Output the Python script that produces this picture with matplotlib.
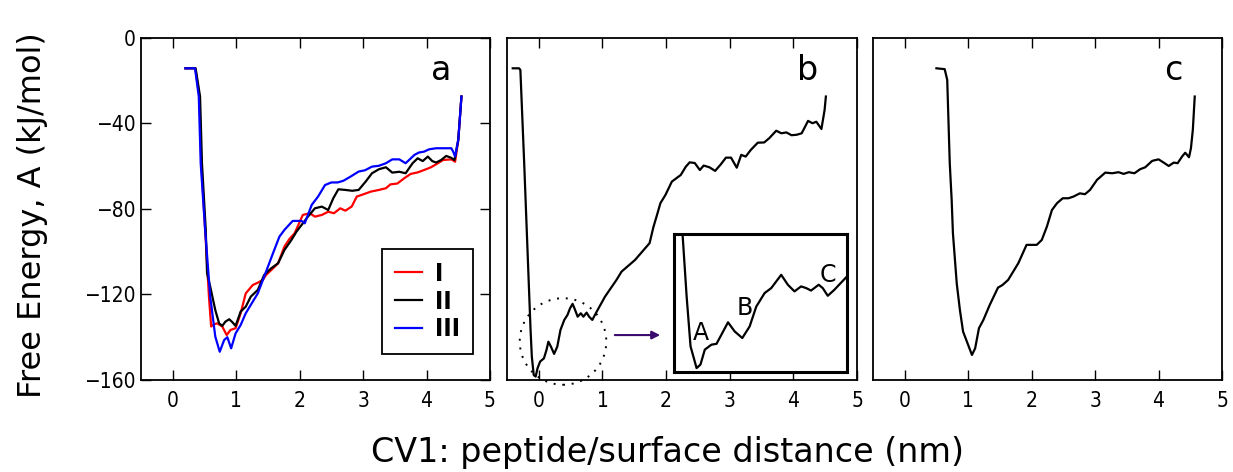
import matplotlib
matplotlib.use("Agg")
import matplotlib.pyplot as plt
from matplotlib.patches import Ellipse

# panel a: three runs (I red, II black, III blue)
x_I = [0.2, 0.355, 0.42, 0.45, 0.51, 0.57, 0.605, 0.65, 0.70, 0.78, 0.85, 0.91, 0.99, 1.07, 1.15,
       1.26, 1.34, 1.42, 1.47, 1.58, 1.66, 1.76, 1.84, 1.92, 2.05, 2.16, 2.24, 2.35, 2.45, 2.54,
       2.64, 2.72, 2.82, 2.90, 2.98, 3.12, 3.25, 3.36, 3.43, 3.54, 3.65, 3.75, 3.86, 3.96, 4.07,
       4.18, 4.26, 4.39, 4.45, 4.50, 4.55]
y_I = [-14.2, -14.2, -27.4, -58.6, -89.8, -121, -135, -134, -133.5, -135, -139, -136.6, -135.8,
       -128.8, -119.5, -115.6, -114.5, -113.2, -110.9, -107.8, -105.4, -97.6, -94, -91.4, -82.8,
       -82, -83.6, -82.8, -81.3, -82.0, -79.7, -80.8, -78.9, -74.2, -73.4, -71.9, -71.1, -70.3,
       -68.5, -68.1, -65.6, -63.6, -62.9, -61.8, -60.5, -58.6, -57.1, -56.8, -57.9, -47.7, -27.4]
x_II = [0.2, 0.36, 0.43, 0.46, 0.52, 0.54, 0.59, 0.67, 0.73, 0.78, 0.83, 0.89, 0.94, 0.99, 1.07,
        1.15, 1.23, 1.34, 1.44, 1.55, 1.66, 1.76, 1.87, 1.95, 2.03, 2.13, 2.24, 2.35, 2.45, 2.53,
        2.61, 2.72, 2.83, 2.93, 3.04, 3.14, 3.25, 3.36, 3.46, 3.57, 3.67, 3.78, 3.86, 3.94, 4.02,
        4.09, 4.15, 4.23, 4.31, 4.39, 4.44, 4.50, 4.55]
y_II = [-14.2, -14.2, -27.4, -58.6, -89.8, -110, -116.3, -127.3, -133.5, -134.7, -132.7, -131.6,
        -133, -134.7, -128, -125.7, -121, -117.9, -110.9, -107.8, -105.4, -99.2, -94.5, -90.6,
        -87.5, -83.6, -79.7, -78.9, -80.5, -75, -70.8, -71.1, -71.5, -71.1, -67.2, -63.3, -61.4,
        -60.5, -63, -62.6, -63.3, -58.6, -56.3, -57.6, -55.5, -57.6, -58.3, -57.1, -55.2, -56.1,
        -57.1, -47.7, -27.4]
x_III = [0.2, 0.35, 0.41, 0.44, 0.51, 0.59, 0.67, 0.74, 0.81, 0.86, 0.92, 0.99, 1.07, 1.15, 1.26,
         1.34, 1.44, 1.58, 1.68, 1.76, 1.815, 1.89, 2.03, 2.08, 2.19, 2.29, 2.40, 2.50, 2.60, 2.69,
         2.80, 2.93, 3.03, 3.14, 3.25, 3.36, 3.46, 3.57, 3.67, 3.81, 3.88, 3.96, 4.04, 4.15, 4.27,
         4.39, 4.42, 4.45, 4.50, 4.55]
y_III = [-14.2, -14.2, -27.4, -58.6, -89.8, -121, -139.7, -146.8, -141.3, -140, -145.2, -138.2,
         -134.3, -128.8, -123.4, -119.5, -111.7, -100.7, -93, -89.8, -88, -85.6, -85.6, -86.7,
         -78.1, -74.2, -68.8, -67.6, -67.6, -66.8, -64.9, -62.5, -61.9, -60.2, -59.8, -58.6,
         -56.8, -56.8, -58.6, -54.7, -53.6, -53.2, -52.1, -51.6, -51.6, -51.6, -53.2, -55.5,
         -47.7, -27.4]

# panel b
x_b = [-0.41, -0.31, -0.29, -0.23, -0.16, -0.13, -0.11, -0.08, -0.05, -0.02, 0.02, 0.08, 0.12,
       0.15, 0.19, 0.24, 0.29, 0.34, 0.40, 0.45, 0.49, 0.53, 0.56, 0.61, 0.66, 0.70, 0.75, 0.79,
       0.84, 0.91, 1.04, 1.22, 1.30, 1.51, 1.74, 1.80, 1.85, 1.91, 1.99, 2.09, 2.23, 2.31, 2.37,
       2.45, 2.53, 2.59, 2.68, 2.77, 2.86, 2.94, 3.02, 3.11, 3.18, 3.25, 3.33, 3.44, 3.54, 3.62,
       3.73, 3.81, 3.89, 3.97, 4.05, 4.13, 4.23, 4.30, 4.36, 4.44, 4.49, 4.51]
y_b = [-14.2, -14.2, -15, -58.6, -113.2, -136.6, -149.1, -157.7, -158.4, -154.5, -151.4, -149.9,
       -146, -142.1, -144.4, -147.8, -144.4, -136.6, -131.9, -129.6, -126.5, -124.4, -126.5,
       -130.4, -128.8, -130.4, -128.5, -130.4, -131.9, -128, -121, -113.2, -109.3, -103.9, -96,
       -88.5, -83.5, -77.3, -73.4, -67.2, -64.1, -60.2, -58.2, -58.5, -61.8, -59.7, -60.5, -62.2,
       -59.1, -56, -56, -60.7, -54.7, -55.5, -52.4, -49, -48.9, -46.9, -43.4, -44.6, -44.2, -45.5,
       -45.3, -44.6, -38.8, -39.9, -39.2, -42.6, -33.7, -27.4]

# inset of panel b (zoom on the minimum)
x_ins = [-0.18, -0.152, -0.125, -0.083, -0.056, -0.026, 0.020, 0.055, 0.089, 0.135, 0.181, 0.234,
         0.285, 0.331, 0.389, 0.435, 0.504, 0.550, 0.596, 0.642, 0.677, 0.711, 0.764, 0.792, 0.827,
         0.873, 0.96]
y_ins = [-110.4, -132.7, -150.7, -158.6, -157.3, -151.9, -150.1, -149.8, -146.5, -142.0, -145.3,
         -147.7, -143.5, -136.3, -131.4, -129.6, -124.8, -128.4, -130.8, -129.0, -129.6, -130.5,
         -128.4, -129.6, -132.4, -130.2, -125.4]

# panel c
x_c = [0.50, 0.63, 0.67, 0.71, 0.74, 0.76, 0.82, 0.87, 0.92, 0.96, 1.02, 1.06, 1.11, 1.17, 1.24,
       1.34, 1.47, 1.54, 1.63, 1.79, 1.92, 2.00, 2.08, 2.16, 2.24, 2.32, 2.40, 2.49, 2.58, 2.66,
       2.76, 2.84, 2.92, 3.03, 3.16, 3.27, 3.37, 3.45, 3.53, 3.62, 3.71, 3.79, 3.90, 4.00, 4.08,
       4.16, 4.24, 4.30, 4.37, 4.42, 4.48, 4.51, 4.54, 4.57]
y_c = [-14.2, -14.6, -19.6, -58.6, -75.8, -91.4, -114.8, -127.3, -137.4, -140.5, -145.2, -148.3,
       -145.2, -135.8, -131.9, -124.9, -116.8, -115.6, -113.2, -105.4, -96.8, -96.8, -96.8,
       -94.5, -88.3, -80.5, -77.3, -75, -75, -74.2, -72.7, -73.1, -71.1, -66.4, -63, -63.3,
       -62.8, -63.6, -62.8, -63.3, -61.4, -60.5, -57.5, -56.8, -58.3, -59.9, -58.3, -58.6,
       -55.5, -53.7, -55.8, -51.6, -43, -27.4]

plt.rcParams['xtick.direction'] = 'in'
plt.rcParams['ytick.direction'] = 'in'
plt.rcParams['xtick.top'] = True
plt.rcParams['ytick.right'] = True

fig = plt.figure(figsize=(12.33, 4.72), dpi=100)
ax_a = fig.add_axes([0.1144, 0.195, 0.283, 0.7246])
ax_b = fig.add_axes([0.4112, 0.195, 0.2839, 0.7246])
ax_c = fig.add_axes([0.708, 0.195, 0.2831, 0.7246])

tickfont = dict(family='DejaVu Sans', stretch='condensed', size=15)

for ax in (ax_a, ax_b, ax_c):
    ax.set_xlim(-0.5, 5)
    ax.set_ylim(-160, 0)
    ax.set_xticks([0, 1, 2, 3, 4, 5])
    ax.set_xticklabels(['0', '1', '2', '3', '4', '5'], **tickfont)
    ax.tick_params(length=7, width=1, pad=8)
    for s in ax.spines.values():
        s.set_linewidth(1.3)

ax_a.set_yticks([-160, -120, -80, -40, 0])
ax_a.set_yticklabels(['\u2212160', '\u2212120', '\u221280', '\u221240', '0'], **tickfont)
ax_a.tick_params(axis='y', pad=4)
ax_b.set_yticks([])
ax_c.set_yticks([])

lw = 1.6
ax_a.plot(x_I, y_I, color='red', lw=lw, label='I')
ax_a.plot(x_II, y_II, color='black', lw=lw, label='II')
ax_a.plot(x_III, y_III, color='blue', lw=lw, label='III')
leg = ax_a.legend(loc='lower right', prop=dict(size=18, weight='bold', stretch='condensed'),
                  fancybox=False, framealpha=1, handlelength=1.1, handletextpad=0.5,
                  borderpad=0.5, labelspacing=0.15, borderaxespad=0,
                  bbox_to_anchor=(0.95, 0.076))
leg.get_frame().set_edgecolor('black')
leg.get_frame().set_linewidth(1.3)

ax_b.plot(x_b, y_b, color='black', lw=lw)
ax_c.plot(x_c, y_c, color='black', lw=lw)

for ax, letter in ((ax_a, 'a'), (ax_b, 'b'), (ax_c, 'c')):
    ax.text(0.86, 0.905, letter, transform=ax.transAxes, fontsize=24, ha='center', va='center')

# dotted circle + arrow
circ = Ellipse((0.38, -142), 1.36, 40.5, fill=False, ls=(0, (1, 3.5)), lw=1.4,
               color='black', clip_on=False)
ax_b.add_patch(circ)
ax_b.annotate('', xy=(1.95, -139), xytext=(1.15, -139),
              arrowprops=dict(arrowstyle='-|>', color='#3a0a6e', lw=1.5, mutation_scale=12))

ins = fig.add_axes([0.5466, 0.2119, 0.1403, 0.2924])
ins.plot(x_ins, y_ins, color='black', lw=lw)
ins.set_xlim(-0.24, 0.96)
ins.set_ylim(-160, -110)
ins.set_xticks([])
ins.set_yticks([])
for s in ins.spines.values():
    s.set_linewidth(2.2)
ins.text(-0.05, -146, 'A', fontsize=17, ha='center', va='center')
ins.text(0.25, -137, 'B', fontsize=17, ha='center', va='center')
ins.text(0.83, -125, 'C', fontsize=17, ha='center', va='center')

fig.text(0.026, 0.545, 'Free Energy, A (kJ/mol)', rotation=90, fontsize=23,
         ha='center', va='center')
fig.text(0.541, 0.042, 'CV1: peptide/surface distance (nm)', fontsize=24,
         ha='center', va='center')

fig.savefig('out.png', dpi=100)
